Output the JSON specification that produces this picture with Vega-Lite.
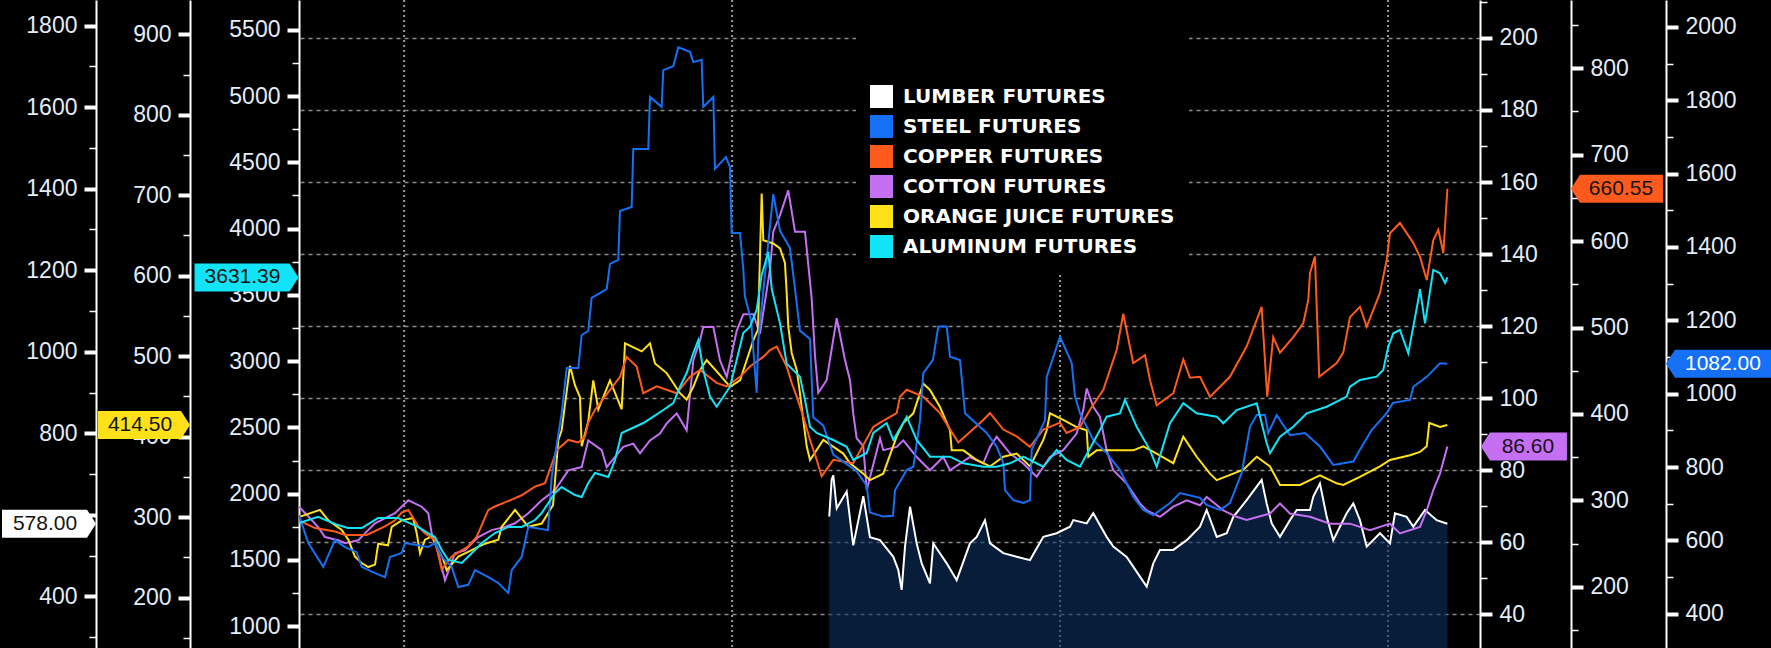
{
  "$schema": "https://vega.github.io/schema/vega-lite/v6.json",
  "width": 1181,
  "height": 648,
  "autosize": "none",
  "padding": {"left": 299, "right": 291, "top": 0, "bottom": 0},
  "background": "#000000",
  "view": {"stroke": null},
  "config": {
    "axis": {
      "domainColor": "#ffffff",
      "domainWidth": 2,
      "tickColor": "#ffffff",
      "labelColor": "#e4ecf6",
      "labelFont": "Liberation Sans",
      "labelFontSize": 23,
      "labelOverlap": false,
      "grid": false,
      "format": "d"
    }
  },
  "datasets": {
    "years": [{"d":117},{"d":482},{"d":847},{"d":1212}],
    "lumber": [{"d":590.1,"v":596},{"d":592.8,"v":687},{"d":594.6,"v":697},{"d":598.4,"v":616},{"d":609.5,"v":657},{"d":616.8,"v":525},{"d":628,"v":646},{"d":635.4,"v":545},{"d":646.6,"v":538},{"d":661.4,"v":497},{"d":666.9,"v":465},{"d":670.7,"v":416},{"d":674.4,"v":522},{"d":680,"v":620},{"d":687.4,"v":530},{"d":693,"v":481},{"d":702.2,"v":432},{"d":705.9,"v":530},{"d":720.8,"v":481},{"d":731.9,"v":440},{"d":746.7,"v":530},{"d":754.2,"v":546},{"d":763.4,"v":587},{"d":769,"v":530},{"d":783.8,"v":506},{"d":798.7,"v":497},{"d":813.5,"v":489},{"d":828.3,"v":546},{"d":843.2,"v":555},{"d":858,"v":571},{"d":861.7,"v":587},{"d":876.6,"v":579},{"d":883.9,"v":604},{"d":898.8,"v":546},{"d":906.2,"v":522},{"d":921.1,"v":497},{"d":928.4,"v":473},{"d":943.4,"v":424},{"d":950.7,"v":481},{"d":958.2,"v":514},{"d":973,"v":514},{"d":987.9,"v":538},{"d":1002.7,"v":571},{"d":1010.1,"v":612},{"d":1021.3,"v":546},{"d":1032.4,"v":555},{"d":1039.8,"v":595},{"d":1054.6,"v":636},{"d":1071.3,"v":686},{"d":1076.9,"v":628},{"d":1082.5,"v":579},{"d":1091.7,"v":546},{"d":1102.8,"v":587},{"d":1110.3,"v":612},{"d":1125.1,"v":612},{"d":1128.8,"v":645},{"d":1136.2,"v":677},{"d":1143.7,"v":595},{"d":1151,"v":538},{"d":1165.9,"v":604},{"d":1173.3,"v":628},{"d":1180.7,"v":587},{"d":1188.2,"v":522},{"d":1203,"v":555},{"d":1214.1,"v":530},{"d":1219.7,"v":604},{"d":1232.7,"v":595},{"d":1240.1,"v":571},{"d":1253.1,"v":612},{"d":1266.1,"v":587},{"d":1278,"v":578}],
    "steel": [{"d":0,"v":669},{"d":10.3,"v":593},{"d":27,"v":528},{"d":40,"v":601},{"d":51.2,"v":582},{"d":64.2,"v":568},{"d":69.8,"v":528},{"d":84.6,"v":511},{"d":95.7,"v":500},{"d":101.3,"v":555},{"d":114.3,"v":566},{"d":118,"v":593},{"d":143.9,"v":582},{"d":151.3,"v":593},{"d":158.8,"v":555},{"d":169.9,"v":528},{"d":177.3,"v":473},{"d":188.4,"v":479},{"d":195.9,"v":519},{"d":210.7,"v":500},{"d":221.8,"v":484},{"d":232.9,"v":457},{"d":236.7,"v":519},{"d":247.8,"v":555},{"d":255.2,"v":637},{"d":277.1,"v":628},{"d":281.2,"v":773},{"d":292.3,"v":947},{"d":297.9,"v":1070},{"d":310.8,"v":1070},{"d":314.6,"v":1160},{"d":321.9,"v":1171},{"d":325.7,"v":1261},{"d":342.4,"v":1285},{"d":346.1,"v":1354},{"d":355.3,"v":1365},{"d":357.2,"v":1498},{"d":370.2,"v":1509},{"d":372,"v":1667},{"d":388.7,"v":1667},{"d":390.6,"v":1809},{"d":403.6,"v":1782},{"d":405.4,"v":1882},{"d":416.5,"v":1893},{"d":422.1,"v":1944},{"d":435.1,"v":1932},{"d":438.8,"v":1904},{"d":448.1,"v":1910},{"d":449.9,"v":1782},{"d":461.1,"v":1809},{"d":462.9,"v":1613},{"d":475.2,"v":1645},{"d":479.6,"v":1618},{"d":481.5,"v":1438},{"d":490.8,"v":1438},{"d":494.5,"v":1337},{"d":496.3,"v":1264},{"d":503,"v":1201},{"d":509.3,"v":1003},{"d":511.1,"v":1146},{"d":527.8,"v":1544},{"d":535.3,"v":1444},{"d":546.4,"v":1397},{"d":552,"v":1285},{"d":557.5,"v":1172},{"d":568.7,"v":1149},{"d":572.3,"v":936},{"d":583.5,"v":913},{"d":594.6,"v":834},{"d":620.6,"v":789},{"d":631.8,"v":749},{"d":635.4,"v":676},{"d":650.2,"v":665},{"d":661,"v":667},{"d":663.3,"v":737},{"d":676.3,"v":792},{"d":683.7,"v":801},{"d":691.1,"v":928},{"d":694.7,"v":1056},{"d":705.5,"v":1092},{"d":711.4,"v":1183},{"d":720.8,"v":1183},{"d":724.5,"v":1101},{"d":735.6,"v":1092},{"d":741.2,"v":947},{"d":765.3,"v":893},{"d":776.4,"v":856},{"d":783.8,"v":811},{"d":785.7,"v":737},{"d":794.9,"v":710},{"d":806,"v":702},{"d":813.5,"v":710},{"d":815.4,"v":847},{"d":830.2,"v":928},{"d":832.1,"v":1046},{"d":846.9,"v":1155},{"d":859.9,"v":1084},{"d":863.6,"v":992},{"d":869.1,"v":947},{"d":883.9,"v":874},{"d":898.8,"v":838},{"d":913.6,"v":792},{"d":928.4,"v":719},{"d":939.6,"v":683},{"d":950.7,"v":669},{"d":969.3,"v":702},{"d":980.4,"v":729},{"d":1002.7,"v":716},{"d":1010.1,"v":697},{"d":1024.9,"v":683},{"d":1036,"v":702},{"d":1049.1,"v":784},{"d":1058.3,"v":910},{"d":1065.8,"v":942},{"d":1075,"v":942},{"d":1078.7,"v":893},{"d":1088,"v":942},{"d":1102.8,"v":887},{"d":1119.5,"v":893},{"d":1136.2,"v":856},{"d":1151,"v":806},{"d":1173.3,"v":815},{"d":1180.7,"v":847},{"d":1193.7,"v":901},{"d":1210.4,"v":947},{"d":1217.4,"v":975},{"d":1236.4,"v":983},{"d":1240.1,"v":1019},{"d":1255,"v":1046},{"d":1269.8,"v":1083},{"d":1278,"v":1082}],
    "copper": [{"d":0,"v":277},{"d":17.8,"v":268},{"d":40.1,"v":264},{"d":51.2,"v":260},{"d":75.3,"v":260},{"d":95.7,"v":270},{"d":106.8,"v":277},{"d":114.3,"v":286},{"d":121.6,"v":289},{"d":132.8,"v":270},{"d":140.2,"v":262},{"d":151.3,"v":254},{"d":158.8,"v":220},{"d":169.9,"v":235},{"d":188.4,"v":247},{"d":197.8,"v":258},{"d":210.7,"v":289},{"d":218.1,"v":293},{"d":236.7,"v":301},{"d":247.8,"v":306},{"d":262.6,"v":316},{"d":273.8,"v":320},{"d":286.8,"v":358},{"d":299.7,"v":370},{"d":310.8,"v":367},{"d":318.3,"v":374},{"d":321.9,"v":390},{"d":329.4,"v":405},{"d":340.5,"v":420},{"d":357.2,"v":443},{"d":364.7,"v":466},{"d":375.8,"v":455},{"d":383.1,"v":424},{"d":398.1,"v":432},{"d":420.3,"v":424},{"d":435.1,"v":443},{"d":446.3,"v":451},{"d":464.8,"v":436},{"d":475.9,"v":432},{"d":490.8,"v":443},{"d":501.9,"v":455},{"d":516.7,"v":466},{"d":524.2,"v":474},{"d":531.6,"v":478},{"d":542.7,"v":455},{"d":548.3,"v":436},{"d":553.9,"v":420},{"d":561.2,"v":397},{"d":568.7,"v":370},{"d":576.1,"v":347},{"d":581.7,"v":328},{"d":594.6,"v":347},{"d":616.8,"v":343},{"d":639.1,"v":385},{"d":646.6,"v":390},{"d":665.1,"v":401},{"d":668.8,"v":420},{"d":676.3,"v":428},{"d":694.7,"v":420},{"d":713.3,"v":401},{"d":733.7,"v":367},{"d":761.5,"v":393},{"d":769,"v":401},{"d":783.8,"v":382},{"d":798.7,"v":374},{"d":813.5,"v":362},{"d":828.3,"v":382},{"d":846.9,"v":390},{"d":854.3,"v":378},{"d":869.1,"v":385},{"d":880.3,"v":405},{"d":895.1,"v":428},{"d":902.5,"v":451},{"d":910,"v":474},{"d":917.3,"v":516},{"d":928.4,"v":459},{"d":941.5,"v":468},{"d":947.1,"v":439},{"d":954.5,"v":410},{"d":973,"v":424},{"d":984.1,"v":463},{"d":991.5,"v":442},{"d":1002.7,"v":443},{"d":1013.8,"v":420},{"d":1036,"v":443},{"d":1054.6,"v":478},{"d":1071.3,"v":524},{"d":1077.5,"v":420},{"d":1084.2,"v":489},{"d":1091.7,"v":471},{"d":1106.5,"v":489},{"d":1117.6,"v":505},{"d":1123.2,"v":532},{"d":1125.1,"v":563},{"d":1130.6,"v":582},{"d":1135.4,"v":443},{"d":1154.8,"v":459},{"d":1162.1,"v":471},{"d":1169.6,"v":512},{"d":1180.7,"v":524},{"d":1188.2,"v":501},{"d":1203,"v":540},{"d":1210.4,"v":578},{"d":1214.1,"v":609},{"d":1225.2,"v":621},{"d":1240,"v":598},{"d":1247.5,"v":582},{"d":1255,"v":555},{"d":1262.3,"v":601},{"d":1267.9,"v":613},{"d":1273.5,"v":586},{"d":1278,"v":660.55}],
    "cotton": [{"d":0,"v":69.9},{"d":14.1,"v":66.2},{"d":21.1,"v":64.3},{"d":28.9,"v":61.5},{"d":43.7,"v":60.6},{"d":51.2,"v":59.8},{"d":66,"v":60.6},{"d":73.4,"v":62.5},{"d":84.6,"v":65.3},{"d":106.8,"v":68.1},{"d":121.6,"v":71.7},{"d":136.5,"v":69.9},{"d":143.9,"v":68.1},{"d":147.7,"v":62.5},{"d":155,"v":57.0},{"d":162.5,"v":49.5},{"d":173.6,"v":57.0},{"d":184.7,"v":57.8},{"d":199.5,"v":61.5},{"d":214.4,"v":63.4},{"d":229.2,"v":64.3},{"d":240.4,"v":65.3},{"d":255.2,"v":68.1},{"d":270.1,"v":71.7},{"d":284.9,"v":74.5},{"d":299.7,"v":80.0},{"d":314.6,"v":80.9},{"d":321.9,"v":88.3},{"d":336.9,"v":85.6},{"d":342.4,"v":80.9},{"d":360.9,"v":86.5},{"d":372,"v":87.4},{"d":379.5,"v":84.7},{"d":390.6,"v":88.3},{"d":401.7,"v":90.2},{"d":409.2,"v":93.0},{"d":420.3,"v":95.8},{"d":431.4,"v":91.1},{"d":438.8,"v":110.5},{"d":446.3,"v":116.1},{"d":449.9,"v":119.8},{"d":461.1,"v":119.8},{"d":468.5,"v":110.5},{"d":476,"v":105.9},{"d":487.1,"v":118.7},{"d":494.5,"v":123.3},{"d":505.6,"v":123.3},{"d":513,"v":117.9},{"d":524.2,"v":135.9},{"d":527.8,"v":146.2},{"d":535.3,"v":150.8},{"d":544.5,"v":157.7},{"d":552,"v":146.2},{"d":563.1,"v":146.2},{"d":570.5,"v":127.8},{"d":574.2,"v":111.9},{"d":577.9,"v":101.5},{"d":587.2,"v":105.0},{"d":594.6,"v":116.4},{"d":598.4,"v":122.2},{"d":607.6,"v":110.6},{"d":613.2,"v":105.0},{"d":616.8,"v":95.8},{"d":620.6,"v":88.9},{"d":628,"v":86.7},{"d":631.8,"v":74.5},{"d":646.6,"v":88.9},{"d":650.2,"v":85.6},{"d":665.1,"v":86.5},{"d":672.5,"v":88.3},{"d":687.4,"v":83.7},{"d":702.2,"v":80.0},{"d":717,"v":83.7},{"d":724.5,"v":80.0},{"d":746.7,"v":83.7},{"d":761.5,"v":81.9},{"d":769,"v":86.5},{"d":776.4,"v":89.3},{"d":791.2,"v":84.7},{"d":806,"v":81.9},{"d":820.9,"v":78.2},{"d":835.7,"v":83.7},{"d":850.5,"v":85.6},{"d":865.4,"v":90.2},{"d":872.8,"v":96.7},{"d":876.6,"v":102.7},{"d":883.9,"v":97.6},{"d":891.4,"v":94.8},{"d":898.8,"v":85.6},{"d":906.2,"v":80.0},{"d":921.1,"v":76.3},{"d":935.9,"v":70.8},{"d":943.4,"v":68.9},{"d":958.2,"v":67.1},{"d":973,"v":69.9},{"d":987.9,"v":71.7},{"d":1002.7,"v":70.3},{"d":1010.1,"v":72.6},{"d":1028.6,"v":68.9},{"d":1043.5,"v":67.1},{"d":1054.6,"v":66.2},{"d":1080.6,"v":68.0},{"d":1091.7,"v":70.8},{"d":1102.8,"v":68.0},{"d":1125.1,"v":67.1},{"d":1147.3,"v":65.2},{"d":1169.6,"v":65.2},{"d":1191.9,"v":63.4},{"d":1214.1,"v":65.2},{"d":1225.2,"v":62.5},{"d":1247.5,"v":64.3},{"d":1255,"v":68.9},{"d":1262.3,"v":74.5},{"d":1269.8,"v":79.1},{"d":1278,"v":86.6}],
    "oj": [{"d":0,"v":300},{"d":23.4,"v":309},{"d":32.6,"v":296},{"d":47.5,"v":284},{"d":54.9,"v":272},{"d":62.3,"v":251},{"d":69.8,"v":243},{"d":77.1,"v":238},{"d":84.6,"v":241},{"d":88.2,"v":267},{"d":99,"v":265},{"d":103.2,"v":288},{"d":114.3,"v":296},{"d":126.9,"v":299},{"d":131,"v":280},{"d":134.7,"v":255},{"d":140.2,"v":272},{"d":147.7,"v":276},{"d":160.6,"v":247},{"d":164.4,"v":234},{"d":177.3,"v":251},{"d":192.2,"v":259},{"d":207,"v":267},{"d":221.8,"v":272},{"d":225.6,"v":288},{"d":240.4,"v":309},{"d":255.2,"v":288},{"d":270.1,"v":292},{"d":282.7,"v":315},{"d":288.6,"v":396},{"d":292.3,"v":408},{"d":301.6,"v":488},{"d":307.1,"v":464},{"d":312.7,"v":449},{"d":314.6,"v":388},{"d":321.9,"v":419},{"d":327.5,"v":470},{"d":333.1,"v":434},{"d":346.1,"v":470},{"d":359.1,"v":434},{"d":362.8,"v":516},{"d":381.4,"v":506},{"d":390.6,"v":516},{"d":396.2,"v":491},{"d":409.2,"v":479},{"d":424,"v":454},{"d":431.4,"v":446},{"d":438.8,"v":462},{"d":446.3,"v":483},{"d":453.7,"v":495},{"d":466.6,"v":479},{"d":479.6,"v":462},{"d":490.8,"v":470},{"d":498.2,"v":495},{"d":505.6,"v":520},{"d":510.8,"v":533},{"d":514.9,"v":702},{"d":516.7,"v":644},{"d":527.8,"v":640},{"d":535.3,"v":634},{"d":540.8,"v":616},{"d":542.7,"v":579},{"d":544.5,"v":537},{"d":548.3,"v":504},{"d":553.9,"v":483},{"d":557.5,"v":454},{"d":561.2,"v":421},{"d":565,"v":388},{"d":568.7,"v":371},{"d":583.5,"v":396},{"d":605.7,"v":379},{"d":613.2,"v":367},{"d":628,"v":354},{"d":635.4,"v":346},{"d":650.2,"v":354},{"d":665.1,"v":400},{"d":672.5,"v":417},{"d":683.6,"v":429},{"d":694.7,"v":466},{"d":702.2,"v":458},{"d":713.3,"v":437},{"d":724.5,"v":408},{"d":726.4,"v":383},{"d":739.3,"v":383},{"d":754.2,"v":371},{"d":769,"v":363},{"d":783.8,"v":375},{"d":798.7,"v":379},{"d":813.5,"v":363},{"d":828.3,"v":396},{"d":832.1,"v":408},{"d":835.7,"v":429},{"d":850.5,"v":421},{"d":865.4,"v":412},{"d":876.6,"v":408},{"d":878.4,"v":375},{"d":887.7,"v":383},{"d":906.2,"v":383},{"d":928.4,"v":383},{"d":939.6,"v":388},{"d":954.5,"v":379},{"d":973,"v":367},{"d":984.1,"v":400},{"d":999,"v":375},{"d":1013.8,"v":354},{"d":1021.3,"v":346},{"d":1050.9,"v":359},{"d":1065.8,"v":375},{"d":1080.6,"v":363},{"d":1091.7,"v":340},{"d":1114,"v":340},{"d":1125.1,"v":346},{"d":1136.2,"v":352},{"d":1154.8,"v":342},{"d":1162.1,"v":340},{"d":1180.7,"v":350},{"d":1203,"v":363},{"d":1214.1,"v":371},{"d":1236.4,"v":377},{"d":1247.5,"v":381},{"d":1255,"v":388},{"d":1257.9,"v":417},{"d":1269.8,"v":412},{"d":1278,"v":414.5}],
    "aluminum": [{"d":0,"v":1779},{"d":21.1,"v":1826},{"d":43.4,"v":1763},{"d":54.5,"v":1741},{"d":69.8,"v":1741},{"d":87.9,"v":1816},{"d":110.2,"v":1816},{"d":132.4,"v":1749},{"d":143.6,"v":1703},{"d":151.3,"v":1673},{"d":158.8,"v":1575},{"d":166.1,"v":1500},{"d":181.1,"v":1477},{"d":195.9,"v":1575},{"d":203.3,"v":1628},{"d":218.1,"v":1703},{"d":232.9,"v":1749},{"d":247.8,"v":1749},{"d":262.6,"v":1801},{"d":270.1,"v":1854},{"d":284.9,"v":2005},{"d":292.3,"v":2050},{"d":307.1,"v":1990},{"d":314.6,"v":1975},{"d":321.9,"v":2080},{"d":329.4,"v":2156},{"d":344.2,"v":2126},{"d":351.7,"v":2254},{"d":359.1,"v":2458},{"d":383.2,"v":2533},{"d":394.3,"v":2581},{"d":405.4,"v":2631},{"d":416.5,"v":2684},{"d":424,"v":2807},{"d":431.4,"v":2910},{"d":438.8,"v":3061},{"d":444.4,"v":3159},{"d":449.9,"v":2933},{"d":457.4,"v":2732},{"d":464.8,"v":2656},{"d":479.6,"v":2807},{"d":487.1,"v":3009},{"d":494.4,"v":3212},{"d":501.9,"v":3260},{"d":509.3,"v":3386},{"d":514.9,"v":3650},{"d":522.3,"v":3824},{"d":526.1,"v":3544},{"d":535.3,"v":3285},{"d":542.7,"v":2981},{"d":557.5,"v":2883},{"d":563.1,"v":2707},{"d":568.7,"v":2505},{"d":576.1,"v":2458},{"d":594.6,"v":2405},{"d":609.5,"v":2354},{"d":616.8,"v":2254},{"d":631.8,"v":2307},{"d":639.1,"v":2458},{"d":654,"v":2533},{"d":661.4,"v":2405},{"d":676.3,"v":2581},{"d":687.4,"v":2405},{"d":702.2,"v":2279},{"d":724.5,"v":2279},{"d":739.3,"v":2229},{"d":761.5,"v":2203},{"d":776.4,"v":2203},{"d":791.2,"v":2229},{"d":806,"v":2279},{"d":828.3,"v":2203},{"d":843.2,"v":2329},{"d":854.3,"v":2254},{"d":869.1,"v":2203},{"d":891.4,"v":2480},{"d":898.8,"v":2581},{"d":913.6,"v":2606},{"d":919.2,"v":2707},{"d":932.2,"v":2505},{"d":947,"v":2329},{"d":954.5,"v":2203},{"d":969.3,"v":2531},{"d":984.1,"v":2682},{"d":999,"v":2606},{"d":1021.3,"v":2581},{"d":1028.6,"v":2531},{"d":1043.5,"v":2631},{"d":1065.8,"v":2682},{"d":1076.9,"v":2380},{"d":1080.6,"v":2305},{"d":1091.7,"v":2430},{"d":1106.5,"v":2505},{"d":1121.4,"v":2606},{"d":1143.7,"v":2656},{"d":1165.9,"v":2732},{"d":1169.6,"v":2807},{"d":1180.7,"v":2858},{"d":1199.3,"v":2883},{"d":1206.6,"v":2933},{"d":1212.2,"v":3109},{"d":1217.8,"v":3210},{"d":1225.2,"v":3235},{"d":1234.5,"v":3059},{"d":1245.6,"v":3461},{"d":1247.5,"v":3544},{"d":1253.1,"v":3285},{"d":1262.3,"v":3688},{"d":1269.8,"v":3663},{"d":1275.4,"v":3590},{"d":1278,"v":3631.39}]
  },
  "layer": [
    {
      "data": {"name": "years"},
      "mark": {"type": "rule", "color": "#9a9a9a", "strokeWidth": 2, "strokeDash": [2, 3]},
      "encoding": {
        "x": {"field": "d", "type": "quantitative", "scale": {"domain": [0, 1314.3], "nice": false, "zero": false}, "axis": null}
      }
    },
    {
      "encoding": {
        "y": {
          "field": "v",
          "type": "quantitative",
          "scale": {"domain": [273.4, 1862.8], "nice": false, "zero": false},
          "axis": {
            "orient": "left",
            "offset": 203,
            "title": null,
            "values": [300, 400, 500, 600, 700, 800, 900, 1000, 1100, 1200, 1300, 1400, 1500, 1600, 1700, 1800],
            "labelExpr": "datum.value % 200 === 0 && datum.value !== 600 ? datum.label : ''",
            "tickSize": {"condition": {"test": "datum.value % 200 === 0", "value": 12}, "value": 7},
            "tickWidth": {"condition": {"test": "datum.value % 200 === 0", "value": 4}, "value": 1.5},
            "labelPadding": 7
          }
        }
      },
      "layer": [
        {
          "data": {"name": "lumber"},
          "mark": {"type": "area", "fill": "#0c3060", "fillOpacity": 0.6, "clip": true},
          "encoding": {
            "x": {"field": "d", "type": "quantitative", "scale": {"domain": [0, 1314.3], "nice": false, "zero": false}, "axis": null}
          }
        },
        {
          "data": {"name": "lumber"},
          "mark": {"type": "line", "clip": true, "color": "#ffffff", "strokeWidth": 2},
          "encoding": {
            "x": {"field": "d", "type": "quantitative", "scale": {"domain": [0, 1314.3], "nice": false, "zero": false}, "axis": null}
          }
        },
        {
          "data": {"values": [{"v": 578, "label": "578.00"}]},
          "mark": {"type": "point", "filled": true, "opacity": 1, "size": 8836, "shape": "M1,0L0.809,-0.298L-1,-0.298L-1,0.298L0.809,0.298Z"},
          "encoding": {
            "x": {"datum": -278.2, "type": "quantitative", "scale": {"domain": [0, 1314.3], "nice": false, "zero": false}, "axis": null},
            "color": {
              "datum": "LUMBER FUTURES",
              "type": "nominal",
              "scale": {
                "domain": ["LUMBER FUTURES", "STEEL FUTURES", "COPPER FUTURES", "COTTON FUTURES", "ORANGE JUICE FUTURES", "ALUMINUM FUTURES"],
                "range": ["#ffffff", "#1670f5", "#ff5a1e", "#c570f2", "#ffe11a", "#12e4f7"]
              },
              "legend": {
                "orient": "none",
                "legendX": 557,
                "legendY": 0,
                "direction": "vertical",
                "title": "                                                                                ",
                "titleFont": "DejaVu Sans",
                "titleFontSize": 16,
                "titleLimit": 700,
                "titlePadding": 55,
                "padding": 14,
                "fillColor": "#000000",
                "symbolType": "square",
                "symbolSize": 529,
                "symbolStrokeWidth": 0,
                "symbolOpacity": 1,
                "labelFont": "DejaVu Sans",
                "labelFontWeight": "bold",
                "labelFontSize": 20,
                "labelColor": "#ffffff",
                "labelOffset": 10,
                "labelLimit": 400,
                "rowPadding": 7
              }
            }
          }
        },
        {
          "data": {"values": [{"v": 578, "label": "578.00"}]},
          "mark": {"type": "text", "font": "Liberation Sans", "fontSize": 21, "color": "#141414", "align": "center", "baseline": "middle", "dx": -4},
          "encoding": {"x": {"datum": -278.2, "type": "quantitative", "scale": {"domain": [0, 1314.3], "nice": false, "zero": false}, "axis": null}, "text": {"field": "label"}}
        }
      ]
    },
    {
      "encoding": {
        "y": {
          "field": "v",
          "type": "quantitative",
          "scale": {"domain": [30.7, 210.5], "nice": false, "zero": false},
          "axis": {
            "orient": "right",
            "offset": 0,
            "title": null,
            "values": [40, 50, 60, 70, 80, 90, 100, 110, 120, 130, 140, 150, 160, 170, 180, 190, 200, 210],
            "labelExpr": "datum.value % 20 === 0 && datum.value <= 200 ? datum.label : ''",
            "tickSize": {"condition": {"test": "datum.value % 20 === 0", "value": 12}, "value": 7},
            "tickWidth": {"condition": {"test": "datum.value % 20 === 0", "value": 4}, "value": 1.5},
            "labelPadding": 7,
            "grid": true,
            "gridColor": "#8c8c8c",
            "gridDash": [4, 4],
            "gridWidth": 1.5,
            "gridOpacity": {"condition": {"test": "datum.value % 20 === 0 && datum.value <= 200", "value": 1}, "value": 0}
          }
        }
      },
      "layer": [
        {
          "data": {"name": "cotton"},
          "mark": {"type": "line", "clip": true, "color": "#c570f2", "strokeWidth": 2},
          "encoding": {
            "x": {"field": "d", "type": "quantitative", "scale": {"domain": [0, 1314.3], "nice": false, "zero": false}, "axis": null}
          }
        },
        {
          "data": {"values": [{"v": 86.6, "label": "86.60"}]},
          "mark": {"type": "point", "filled": true, "opacity": 1, "size": 7396, "shape": "M-1,0L-0.791,-0.326L1,-0.326L1,0.326L-0.791,0.326Z"},
          "encoding": {
            "x": {"datum": 1363.2, "type": "quantitative", "scale": {"domain": [0, 1314.3], "nice": false, "zero": false}, "axis": null},
            "color": {"datum": "COTTON FUTURES", "type": "nominal"}
          }
        },
        {
          "data": {"values": [{"v": 86.6, "label": "86.60"}]},
          "mark": {"type": "text", "font": "Liberation Sans", "fontSize": 21, "color": "#1a0f22", "align": "center", "baseline": "middle", "dx": 4},
          "encoding": {"x": {"datum": 1363.2, "type": "quantitative", "scale": {"domain": [0, 1314.3], "nice": false, "zero": false}, "axis": null}, "text": {"field": "label"}}
        }
      ]
    },
    {
      "encoding": {
        "y": {
          "field": "v",
          "type": "quantitative",
          "scale": {"domain": [137.4, 942.6], "nice": false, "zero": false},
          "axis": {
            "orient": "left",
            "offset": 109,
            "title": null,
            "values": [150, 200, 250, 300, 350, 400, 450, 500, 550, 600, 650, 700, 750, 800, 850, 900],
            "labelExpr": "datum.value % 100 === 0 ? datum.label : ''",
            "tickSize": {"condition": {"test": "datum.value % 100 === 0", "value": 12}, "value": 7},
            "tickWidth": {"condition": {"test": "datum.value % 100 === 0", "value": 4}, "value": 1.5},
            "labelPadding": 7
          }
        }
      },
      "layer": [
        {
          "data": {"name": "oj"},
          "mark": {"type": "line", "clip": true, "color": "#ffe11a", "strokeWidth": 2},
          "encoding": {
            "x": {"field": "d", "type": "quantitative", "scale": {"domain": [0, 1314.3], "nice": false, "zero": false}, "axis": null}
          }
        },
        {
          "data": {"values": [{"v": 414.5, "label": "414.50"}]},
          "mark": {"type": "point", "filled": true, "opacity": 1, "size": 8464, "shape": "M1,0L0.804,-0.304L-1,-0.304L-1,0.304L0.804,0.304Z"},
          "encoding": {
            "x": {"datum": -172.5, "type": "quantitative", "scale": {"domain": [0, 1314.3], "nice": false, "zero": false}, "axis": null},
            "color": {"datum": "ORANGE JUICE FUTURES", "type": "nominal"}
          }
        },
        {
          "data": {"values": [{"v": 414.5, "label": "414.50"}]},
          "mark": {"type": "text", "font": "Liberation Sans", "fontSize": 21, "color": "#141414", "align": "center", "baseline": "middle", "dx": -4},
          "encoding": {"x": {"datum": -172.5, "type": "quantitative", "scale": {"domain": [0, 1314.3], "nice": false, "zero": false}, "axis": null}, "text": {"field": "label"}}
        }
      ]
    },
    {
      "encoding": {
        "y": {
          "field": "v",
          "type": "quantitative",
          "scale": {"domain": [129.3, 878.9], "nice": false, "zero": false},
          "axis": {
            "orient": "right",
            "offset": 91,
            "title": null,
            "values": [150, 200, 250, 300, 350, 400, 450, 500, 550, 600, 650, 700, 750, 800, 850],
            "labelExpr": "datum.value % 100 === 0 ? datum.label : ''",
            "tickSize": {"condition": {"test": "datum.value % 100 === 0", "value": 12}, "value": 7},
            "tickWidth": {"condition": {"test": "datum.value % 100 === 0", "value": 4}, "value": 1.5},
            "labelPadding": 7
          }
        }
      },
      "layer": [
        {
          "data": {"name": "copper"},
          "mark": {"type": "line", "clip": true, "color": "#ff5a1e", "strokeWidth": 2},
          "encoding": {
            "x": {"field": "d", "type": "quantitative", "scale": {"domain": [0, 1314.3], "nice": false, "zero": false}, "axis": null}
          }
        },
        {
          "data": {"values": [{"v": 660.55, "label": "660.55"}]},
          "mark": {"type": "point", "filled": true, "opacity": 1, "size": 8464, "shape": "M-1,0L-0.804,-0.304L1,-0.304L1,0.304L-0.804,0.304Z"},
          "encoding": {
            "x": {"datum": 1466.7, "type": "quantitative", "scale": {"domain": [0, 1314.3], "nice": false, "zero": false}, "axis": null},
            "color": {"datum": "COPPER FUTURES", "type": "nominal"}
          }
        },
        {
          "data": {"values": [{"v": 660.55, "label": "660.55"}]},
          "mark": {"type": "text", "font": "Liberation Sans", "fontSize": 21, "color": "#141414", "align": "center", "baseline": "middle", "dx": 4},
          "encoding": {"x": {"datum": 1466.7, "type": "quantitative", "scale": {"domain": [0, 1314.3], "nice": false, "zero": false}, "axis": null}, "text": {"field": "label"}}
        }
      ]
    },
    {
      "encoding": {
        "y": {
          "field": "v",
          "type": "quantitative",
          "scale": {"domain": [306.8, 2073.3], "nice": false, "zero": false},
          "axis": {
            "orient": "right",
            "offset": 186,
            "title": null,
            "values": [400, 500, 600, 700, 800, 900, 1000, 1100, 1200, 1300, 1400, 1500, 1600, 1700, 1800, 1900, 2000],
            "labelExpr": "datum.value % 200 === 0 ? datum.label : ''",
            "tickSize": {"condition": {"test": "datum.value % 200 === 0", "value": 12}, "value": 7},
            "tickWidth": {"condition": {"test": "datum.value % 200 === 0", "value": 4}, "value": 1.5},
            "labelPadding": 7
          }
        }
      },
      "layer": [
        {
          "data": {"name": "steel"},
          "mark": {"type": "line", "clip": true, "color": "#1670f5", "strokeWidth": 2},
          "encoding": {
            "x": {"field": "d", "type": "quantitative", "scale": {"domain": [0, 1314.3], "nice": false, "zero": false}, "axis": null}
          }
        },
        {
          "data": {"values": [{"v": 1082, "label": "1082.00"}]},
          "mark": {"type": "point", "filled": true, "opacity": 1, "size": 11236, "shape": "M-1,0L-0.83,-0.264L1,-0.264L1,0.264L-0.83,0.264Z"},
          "encoding": {
            "x": {"datum": 1580.2, "type": "quantitative", "scale": {"domain": [0, 1314.3], "nice": false, "zero": false}, "axis": null},
            "color": {"datum": "STEEL FUTURES", "type": "nominal"}
          }
        },
        {
          "data": {"values": [{"v": 1082, "label": "1082.00"}]},
          "mark": {"type": "text", "font": "Liberation Sans", "fontSize": 21, "color": "#ffffff", "align": "center", "baseline": "middle", "dx": 4},
          "encoding": {"x": {"datum": 1580.2, "type": "quantitative", "scale": {"domain": [0, 1314.3], "nice": false, "zero": false}, "axis": null}, "text": {"field": "label"}}
        }
      ]
    },
    {
      "encoding": {
        "y": {
          "field": "v",
          "type": "quantitative",
          "scale": {"domain": [835.6, 5724.7], "nice": false, "zero": false},
          "axis": {
            "orient": "left",
            "offset": 0,
            "title": null,
            "values": [1000, 1250, 1500, 1750, 2000, 2250, 2500, 2750, 3000, 3250, 3500, 3750, 4000, 4250, 4500, 4750, 5000, 5250, 5500],
            "labelExpr": "datum.value % 500 === 0 ? datum.label : ''",
            "tickSize": {"condition": {"test": "datum.value % 500 === 0", "value": 12}, "value": 7},
            "tickWidth": {"condition": {"test": "datum.value % 500 === 0", "value": 4}, "value": 1.5},
            "labelPadding": 7
          }
        }
      },
      "layer": [
        {
          "data": {"name": "aluminum"},
          "mark": {"type": "line", "clip": true, "color": "#12e4f7", "strokeWidth": 2},
          "encoding": {
            "x": {"field": "d", "type": "quantitative", "scale": {"domain": [0, 1314.3], "nice": false, "zero": false}, "axis": null}
          }
        },
        {
          "data": {"values": [{"v": 3631.39, "label": "3631.39"}]},
          "mark": {"type": "point", "filled": true, "opacity": 1, "size": 10816, "shape": "M1,0L0.827,-0.269L-1,-0.269L-1,0.269L0.827,0.269Z"},
          "encoding": {
            "x": {"datum": -58.4, "type": "quantitative", "scale": {"domain": [0, 1314.3], "nice": false, "zero": false}, "axis": null},
            "color": {"datum": "ALUMINUM FUTURES", "type": "nominal"}
          }
        },
        {
          "data": {"values": [{"v": 3631.39, "label": "3631.39"}]},
          "mark": {"type": "text", "font": "Liberation Sans", "fontSize": 21, "color": "#141414", "align": "center", "baseline": "middle", "dx": -4},
          "encoding": {"x": {"datum": -58.4, "type": "quantitative", "scale": {"domain": [0, 1314.3], "nice": false, "zero": false}, "axis": null}, "text": {"field": "label"}}
        }
      ]
    }
  ],
  "resolve": {"scale": {"y": "independent"}, "axis": {"y": "independent"}}
}
